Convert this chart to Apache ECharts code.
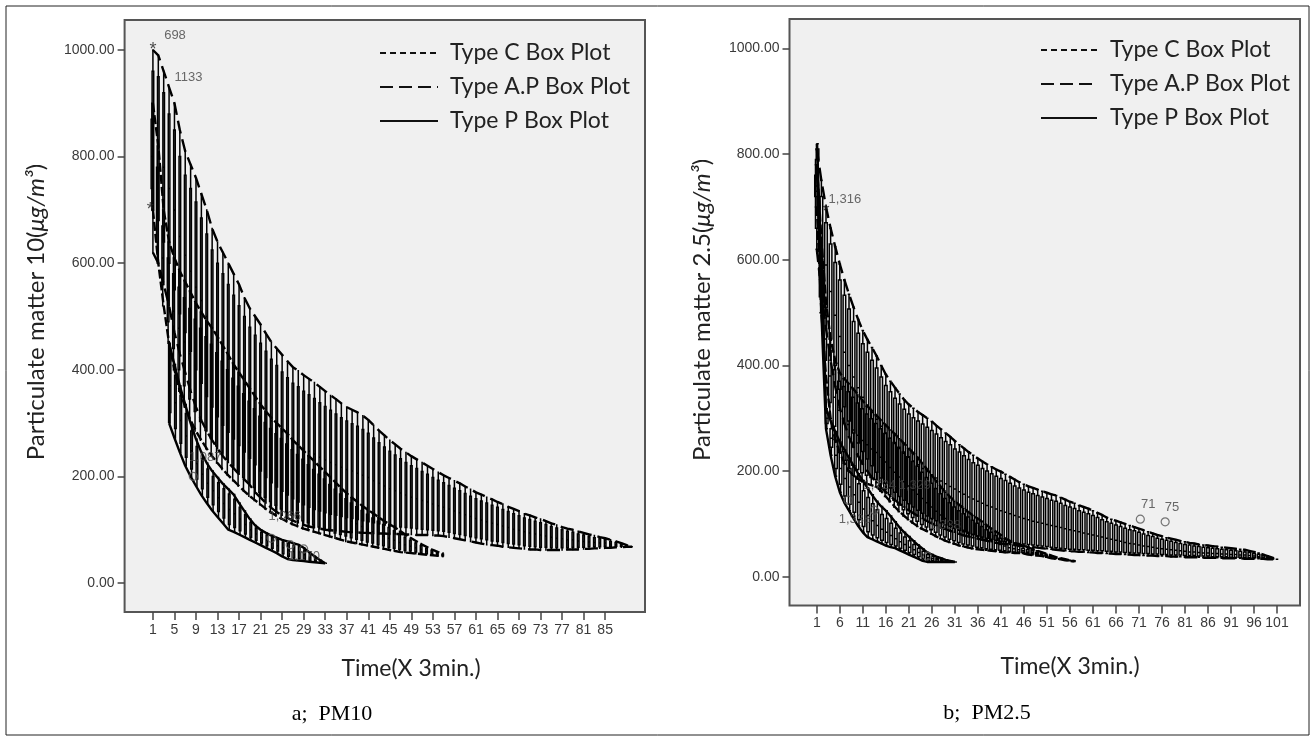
<!DOCTYPE html>
<html><head><meta charset="utf-8">
<script src="https://cdn.jsdelivr.net/npm/echarts@6/dist/echarts.min.js"></script>
<style>html,body{margin:0;padding:0;background:#fff;}#c{width:1315px;height:740px;}</style>
</head><body><div id="c"></div>
<script>
// ---------- tick labels ----------
const xTicksA = [1,5,9,13,17,21,25,29,33,37,41,45,49,53,57,61,65,69,73,77,81,85];
const xTicksB = [1,6,11,16,21,26,31,36,41,46,51,56,61,66,71,76,81,86,91,96,101];
const yTicks = [0,200,400,600,800,1000];
const legendNames = ['Type C Box Plot','Type A.P Box Plot','Type P Box Plot'];

// ---------- Panel a (PM10) ----------
// Type A.P, t = 1..90
const apA_start = 1;
const apA_hi = [1000,990,960,930,900,850,810,785,760,730,700,665,640,620,600,580,560,535,515,500,485,468,452,440,428,416,405,398,390,383,376,368,360,352,345,337,330,325,320,314,306,296,286,277,268,260,252,245,238,232,226,220,214,208,202,197,192,187,181,176,170,166,161,157,152,148,143,139,135,130,127,123,120,116,112,109,105,102,100,97,94,91,89,86,84,81,78,75,71,68];
const apA_q3 = [960,950,920,880,850,800,765,740,715,685,655,625,600,580,560,540,520,500,480,465,450,435,420,408,396,385,375,368,360,353,346,338,331,324,317,310,304,299,294,288,281,272,263,255,247,240,233,226,220,215,209,204,198,193,188,183,178,173,168,163,158,154,150,146,142,138,134,130,126,122,119,116,113,110,106,103,100,97,95,92,90,87,85,83,81,78,76,73,70,68];
const apA_med = [830,815,780,740,700,650,615,585,555,530,500,478,456,438,420,405,390,373,357,343,330,316,304,294,284,275,266,260,253,247,242,236,231,226,222,217,213,210,206,202,198,192,187,182,177,173,169,165,161,158,155,152,148,145,142,139,135,132,128,125,121,118,115,112,110,107,104,101,99,96,94,92,90,88,86,84,83,81,81,79,78,77,76,75,75,73,72,71,69,68];
const apA_q1 = [700,680,640,600,550,505,470,435,400,375,350,330,312,296,283,270,258,246,234,222,210,198,188,180,172,165,158,152,147,142,138,135,132,129,127,125,123,121,119,117,115,113,111,109,107,106,105,104,103,102,101,100,99,98,97,95,93,91,89,87,85,83,81,79,78,76,74,73,72,70,69,68,67,67,66,66,66,66,67,67,67,68,68,68,69,69,69,69,69,68];
const apA_lo = [620,600,560,520,470,430,395,360,330,305,285,268,252,238,226,215,204,194,184,170,160,150,141,133,127,122,117,113,109,106,104,102,100,99,98,97,96,95,95,94,94,93,93,93,92,92,92,91,91,90,90,90,89,89,88,86,84,82,80,78,76,74,72,71,70,68,67,66,65,64,63,63,62,62,62,62,62,63,63,63,64,64,65,65,66,66,67,67,68,68];
// Type C, t = 1..55
const cA_start = 1;
const cA_hi = [900,820,700,640,610,585,565,545,525,508,492,478,462,445,428,410,395,380,365,350,335,322,310,300,290,280,268,258,248,238,228,218,208,198,188,178,168,160,152,144,137,130,123,116,110,104,97,90,84,78,72,67,62,58,55];
const cA_q3 = [870,780,670,610,580,555,535,515,495,478,462,448,432,416,400,384,369,355,341,327,313,301,290,280,271,261,250,241,232,222,213,204,195,185,176,167,158,150,143,136,129,122,116,110,104,98,92,86,80,75,70,65,61,57,54];
const cA_med = [800,710,610,550,510,478,452,430,408,390,374,360,345,330,316,302,289,276,264,253,242,231,221,213,205,197,189,181,174,167,160,153,147,140,134,127,121,116,111,106,101,96,92,88,84,80,76,72,69,66,63,60,57,55,52];
const cA_q1 = [740,640,560,490,440,400,370,345,322,303,286,271,257,244,232,220,209,198,188,179,170,161,153,146,139,133,127,122,117,113,109,105,101,98,94,91,88,85,82,80,77,75,72,70,67,65,63,61,60,58,57,55,54,53,51];
const cA_lo = [700,600,520,450,400,360,330,305,285,268,252,238,225,213,202,192,182,172,163,155,147,139,132,126,120,115,110,106,102,99,96,93,90,87,84,81,78,76,74,72,70,68,66,64,62,60,58,57,56,55,54,53,52,51,50];
// Type P, t = 4..33
const pA_start = 4;
const pA_hi = [450,410,370,335,300,270,245,225,210,198,186,176,166,150,135,120,108,100,94,89,85,81,78,75,72,66,58,50,43,37];
const pA_q3 = [430,390,352,318,285,256,233,214,200,188,177,167,157,142,128,114,103,95,90,85,81,77,74,71,68,62,55,48,42,37];
const pA_med = [370,338,305,276,248,224,204,187,173,160,149,138,130,120,110,100,92,85,80,75,70,66,62,59,57,53,48,44,40,37];
const pA_q1 = [320,290,262,236,214,195,177,161,147,134,122,110,104,98,92,86,80,75,70,65,60,55,50,47,46,44,42,41,39,37];
const pA_lo = [300,272,245,220,200,182,165,150,136,124,112,100,96,91,86,81,76,71,66,61,56,50,45,43,42,41,40,39,38,37];
// outliers panel a: circles [t, v], stars [t, v], case labels [t, v, text]
const circA = [[8.5,200],[23,84],[26.5,72],[29,64]];
const starA = [[0.5,700],[1,1000]];
const labelA = [[5.1,1028,'698'],[7.6,949,'1133'],[10.7,236,'1,087'],[25.5,124,'1,066'],[29,49,'1,170']];

// ---------- Panel b (PM2.5) ----------
const apB_start = 1;
const apB_hi = [810,750,700,660,625,592,562,535,510,487,466,449,434,418,400,383,370,358,346,335,326,319,312,306,300,294,286,279,272,265,257,250,243,236,230,224,218,213,208,203,199,194,189,184,179,175,171,168,165,162,159,156,154,150,146,142,139,135,132,129,125,121,117,112,109,106,103,100,97,94,91,88,85,82,79,77,74,72,70,68,66,64,63,61,60,59,58,57,56,55,54,53,52,51,49,47,45,42,39,36,33];
const apB_q3 = [790,720,670,630,595,562,533,507,483,461,441,425,410,395,378,362,350,338,327,317,308,301,295,289,283,277,270,263,256,250,242,236,229,222,216,211,205,200,195,190,186,182,177,172,168,164,160,157,154,151,148,145,143,139,135,132,129,125,122,119,116,112,108,104,101,98,95,92,89,87,84,81,78,76,73,71,69,67,65,63,61,60,58,57,56,55,54,53,52,51,50,49,48,47,46,44,42,40,37,35,33];
const apB_med = [730,650,590,540,495,455,425,400,378,358,340,325,311,298,285,272,262,252,243,234,226,219,212,205,199,193,187,181,176,171,166,161,156,151,147,143,139,135,132,128,125,122,119,116,113,110,108,105,103,101,99,97,95,93,91,89,87,85,83,81,79,77,75,73,71,69,67,65,63,62,60,58,57,56,54,53,52,51,50,49,48,47,47,46,45,45,44,44,43,43,42,42,41,41,40,39,38,37,36,35,33];
const apB_q1 = [660,580,510,450,400,355,322,295,272,253,237,223,210,198,187,177,168,160,152,145,138,132,126,120,115,110,106,102,98,95,92,88,85,82,80,77,75,73,71,69,67,66,65,64,63,62,61,60,59,58,57,56,55,54,53,52,52,51,51,50,50,49,49,48,48,47,47,46,46,45,45,44,44,43,43,42,42,41,41,41,40,40,40,39,39,39,38,38,38,38,37,37,37,37,36,36,36,35,34,34,33];
const apB_lo = [620,540,470,410,360,320,290,265,245,228,213,200,188,178,168,160,152,145,138,132,126,120,115,110,105,101,97,93,90,87,84,81,78,76,74,72,70,68,66,64,63,62,61,60,59,58,57,56,55,54,53,52,51,50,49,48,48,47,47,46,46,45,45,44,44,43,43,42,42,41,41,40,40,40,39,39,39,38,38,38,37,37,37,37,36,36,36,36,35,35,35,35,35,34,34,34,34,34,33,33,33];
const cB_start = 1;
const cB_hi = [780,640,520,450,410,386,375,365,355,344,333,323,314,305,296,287,278,270,261,252,243,234,225,214,203,192,181,170,160,151,143,136,129,122,116,110,104,97,91,85,79,72,68,64,61,58,55,52,49,46,43,40,37,35,33,31,30];
const cB_q3 = [760,610,495,428,392,370,360,350,340,329,318,308,299,290,280,271,262,254,245,236,227,218,209,198,188,177,167,157,148,140,132,125,119,113,107,101,95,89,84,78,73,67,63,60,57,54,51,49,46,44,41,38,36,34,32,31,30];
const cB_med = [740,570,450,380,340,315,300,288,278,268,258,250,242,235,226,217,207,198,189,180,172,164,156,148,140,132,124,117,110,104,98,93,88,84,80,77,74,71,68,64,61,58,55,53,51,49,47,46,44,42,40,37,35,34,32,30,29];
const cB_q1 = [720,530,410,330,285,258,237,221,211,203,197,192,188,184,176,166,155,145,136,127,119,112,105,99,94,89,84,79,75,71,68,65,62,60,58,56,55,53,52,51,50,49,48,47,47,46,44,43,42,41,39,36,35,33,32,30,29];
const cB_lo = [700,500,380,300,260,235,215,200,192,185,180,176,173,170,162,152,142,132,123,115,108,101,95,90,86,81,76,72,68,65,62,59,57,55,53,52,51,50,49,48,47,46,46,45,45,44,42,41,40,39,37,35,34,33,31,30,29];
const pB_start = 1;
const pB_hi = [820,600,318,295,275,255,240,225,210,195,182,168,155,143,133,125,115,104,93,84,76,68,60,53,46,42,38,35,32,30,28];
const pB_q3 = [810,580,310,280,258,236,220,205,190,176,163,150,138,127,118,110,101,92,83,75,68,61,54,48,42,38,35,33,31,29,28];
const pB_med = [800,550,300,262,230,205,186,170,155,141,128,116,106,97,90,84,78,72,66,61,56,51,46,41,36,34,32,31,30,29,28];
const pB_q1 = [790,520,290,245,205,175,153,137,122,108,95,85,79,74,69,65,61,58,54,50,46,42,38,34,31,30,29,29,29,28,28];
const pB_lo = [780,500,280,230,190,160,140,125,110,96,84,75,71,67,63,59,56,54,50,46,42,38,34,30,28,28,28,28,28,28,28];
const circB = [[7.8,145],[13.5,126],[25,39],[71.3,109],[76.7,104]];
const starB = [[3,690]];
const labelB = [[7.1,715,'1,316'],[14.7,172,'1,724'],[22.3,172,'1,329'],[9.3,109,'1,338'],[28.8,98,'1,338'],[73,136,'71'],[78.2,132,'75']];

// ---------- build ----------
function boxData(start, lo, q1, med, q3, hi){
  return lo.map((v,i)=>[start+i, lo[i], q1[i], med[i], q3[i], hi[i]]);
}
function lineData(start, arr){ return arr.map((v,i)=>[start+i, v]); }

const DASH_C = [6,4], DASH_C_PLOT = [9,3], DASH_AP = [13,6];
const lineCol = '#000';

function panelSeries(gi, sets, bw){
  const s = [];
  sets.forEach(st=>{
    s.push({type:'boxplot', xAxisIndex:gi, yAxisIndex:gi, z:2, silent:true,
      boxWidth:[bw,bw],
      itemStyle:{color:'rgba(0,0,0,0)', borderColor:'#000', borderWidth:1.5},
      data: boxData(st.start, st.lo, st.q1, st.med, st.q3, st.hi)});
    ['hi','lo'].forEach(k=>{
      s.push({type:'line', xAxisIndex:gi, yAxisIndex:gi, z:4, silent:true, symbol:'none',
        lineStyle:{color:lineCol, width:2.4, type:st.dash},
        data: lineData(st.start, st[k])});
    });
    if (st.close){
      s.push({type:'line', xAxisIndex:gi, yAxisIndex:gi, z:4, silent:true, symbol:'none',
        lineStyle:{color:lineCol, width:2.4, type:st.dash},
        data:[[st.start, st.hi[0]],[st.start, st.lo[0]]]});
    }
  });
  return s;
}
const tinyItem = {color:'rgba(0,0,0,0)'};
function outlierSeries(gi, circ, star, labels){
  return [
    {type:'scatter', xAxisIndex:gi, yAxisIndex:gi, z:5, silent:true, symbol:'circle', symbolSize:8,
     itemStyle:{color:'rgba(0,0,0,0)', borderColor:'#555', borderWidth:1.2}, data:circ},
    {type:'scatter', xAxisIndex:gi, yAxisIndex:gi, z:5, silent:true, symbol:'circle', symbolSize:1, itemStyle:tinyItem,
     label:{show:true, position:'inside', color:'#222', fontFamily:'Liberation Sans', fontSize:18, formatter:'*'},
     data:star},
    {type:'scatter', xAxisIndex:gi, yAxisIndex:gi, z:5, silent:true, symbol:'circle', symbolSize:1, itemStyle:tinyItem,
     label:{show:true, position:'inside', color:'#444', fontFamily:'Liberation Sans', fontSize:13,
       formatter:p=>p.data[2]}, data:labels}
  ];
}

const setsA = [
  {start:cA_start, lo:cA_lo, q1:cA_q1, med:cA_med, q3:cA_q3, hi:cA_hi, dash:DASH_C_PLOT},
  {start:apA_start, lo:apA_lo, q1:apA_q1, med:apA_med, q3:apA_q3, hi:apA_hi, dash:DASH_AP},
  {start:pA_start, lo:pA_lo, q1:pA_q1, med:pA_med, q3:pA_q3, hi:pA_hi, dash:'solid', close:true}
];
const setsB = [
  {start:cB_start, lo:cB_lo, q1:cB_q1, med:cB_med, q3:cB_q3, hi:cB_hi, dash:DASH_C_PLOT},
  {start:apB_start, lo:apB_lo, q1:apB_q1, med:apB_med, q3:apB_q3, hi:apB_hi, dash:DASH_AP},
  {start:pB_start, lo:pB_lo, q1:pB_q1, med:pB_med, q3:pB_q3, hi:pB_hi, dash:'solid'}
];

const tickFont = {color:'#3a3a3a', fontFamily:'Liberation Sans', fontSize:14};
function xAxis(gi, min, max, ticks){
  return {type:'value', gridIndex:gi, min:min, max:max, splitLine:{show:false},
    axisLine:{show:false, onZero:false},
    axisTick:{show:true, length:8, customValues:ticks, lineStyle:{color:'#444', width:1.5}},
    axisLabel:Object.assign({margin:11, customValues:ticks}, tickFont)};
}
function yAxis(gi, min, max){
  return {type:'value', gridIndex:gi, min:min, max:max, splitLine:{show:false},
    axisLine:{show:false, onZero:false},
    axisTick:{show:true, length:7, customValues:yTicks, lineStyle:{color:'#444', width:1.5}},
    axisLabel:Object.assign({margin:10, customValues:yTicks, formatter:v=>v.toFixed(2)}, tickFont)};
}

function legendGraphic(x0, x1, tx, ys){
  const g = [];
  const dashes = [DASH_C, DASH_AP, null];
  ys.forEach((y,i)=>{
    g.push({type:'line', shape:{x1:x0, y1:y, x2:x1, y2:y},
      style:{stroke:'#111', lineWidth:2, lineDash:dashes[i]}});
    g.push({type:'text', x:tx, y:y, style:{text:legendNames[i], font:'23px Lato', fill:'#222',
      textVerticalAlign:'middle'}});
  });
  return g;
}
function yTitle(x, y, pre){
  return {type:'text', x:x, y:y, rotation:Math.PI/2,
    style:{text:pre+'({i|μg/m³})', font:'24px Lato', fill:'#222', textAlign:'center', textVerticalAlign:'middle',
      rich:{i:{font:'italic 24px Lato', fill:'#222'}}}};
}

const chart = echarts.init(document.getElementById('c'), null, {renderer:'canvas'});
chart.setOption({
  animation:false,
  backgroundColor:'#fff',
  grid:[
    {left:124.6, top:20, width:520.4, height:592, show:true, backgroundColor:'#f0f0f0', borderColor:'#555', borderWidth:2},
    {left:789.5, top:19, width:510.5, height:586.5, show:true, backgroundColor:'#f0f0f0', borderColor:'#555', borderWidth:2}
  ],
  xAxis:[xAxis(0,-4.26,92.4,xTicksA), xAxis(1,-4.93,106,xTicksB)],
  yAxis:[yAxis(0,-54.4,1056.3), yAxis(1,-54.5,1056)],
  series:[].concat(panelSeries(0,setsA,1.6), outlierSeries(0,circA,starA,labelA),
                   panelSeries(1,setsB,2.6), outlierSeries(1,circB,starB,labelB)),
  graphic:[
    {type:'rect', shape:{x:6, y:6, width:1303, height:729}, style:{fill:'none', stroke:'#222', lineWidth:1}},
    yTitle(36, 312, 'Particulate matter 10'),
    yTitle(702, 310, 'Particulate matter 2.5'),
    {type:'text', x:411, y:669, style:{text:'Time(X 3min.)', font:'23px Lato', fill:'#222', textAlign:'center', textVerticalAlign:'middle'}},
    {type:'text', x:1070, y:667, style:{text:'Time(X 3min.)', font:'23px Lato', fill:'#222', textAlign:'center', textVerticalAlign:'middle'}},
    {type:'text', x:332, y:714, style:{text:'a;  PM10', font:'22px "Liberation Serif"', fill:'#000', textAlign:'center', textVerticalAlign:'middle'}},
    {type:'text', x:987, y:713, style:{text:'b;  PM2.5', font:'22px "Liberation Serif"', fill:'#000', textAlign:'center', textVerticalAlign:'middle'}}
  ].concat(legendGraphic(380,438,450,[53,87,121]), legendGraphic(1041,1097,1110,[50,84,118]))
});
</script></body></html>
